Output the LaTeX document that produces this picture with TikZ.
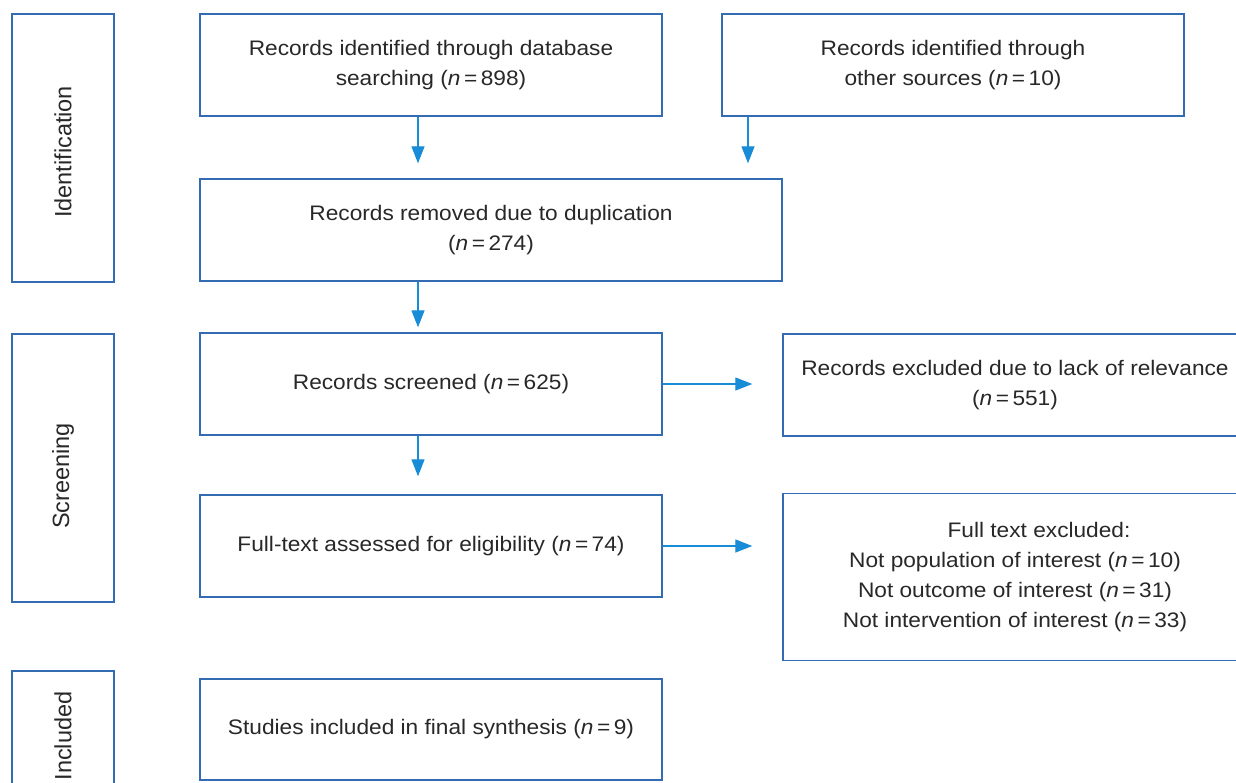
\documentclass[tikz,border=0pt]{standalone}
\usepackage{fontspec}
\setmainfont{Liberation Sans}[FakeStretch=1.08]
\newfontfamily\labfont{Liberation Sans}
\usetikzlibrary{arrows.meta}
\definecolor{boxc}{RGB}{52,108,180}
\definecolor{arrc}{RGB}{24,140,214}
\definecolor{txtc}{RGB}{40,40,40}
\tikzset{
  fbox/.style={draw=boxc, line width=1.4pt, inner sep=0pt, align=center, text=txtc,
    font=\fontsize{21}{30}\selectfont},
  stagebox/.style={draw=boxc, line width=1.4pt, inner sep=0pt},
  stagelab/.style={rotate=90, text=txtc, font=\labfont\fontsize{23.5}{28}\selectfont, inner sep=0pt},
  arr/.style={draw=arrc, line width=1.3pt, -{Triangle[length=17pt,width=13pt]}},
}
\begin{document}
\begin{tikzpicture}[x=1pt,y=-1pt]
\clip (0,0) rectangle (1236,782);
\fill[white] (0,0) rectangle (1236,782);
% stage boxes
\node[stagebox, minimum width=102pt, minimum height=268pt] (idb) at (63,148) {};
\node[stagebox, minimum width=102pt, minimum height=268pt] (scb) at (63,468) {};
\node[stagebox, minimum width=102pt, minimum height=268pt] (inb) at (63,805) {};
\node[stagelab] (idl) at (63,152) {Identification};
\node[stagelab] (scl) at (63,476) {Screening};
\node[stagelab] (inl) at (63,736) {Included};
% flow boxes
\node[fbox, minimum width=462pt, minimum height=102pt] (db) at (431,65)
  {Records identified through database\\searching (\textit{n}\,=\,898)};
\node[fbox, minimum width=462pt, minimum height=102pt] (oth) at (953,65)
  {Records identified through\\other sources (\textit{n}\,=\,10)};
\node[fbox, minimum width=582pt, minimum height=102pt] (rem) at (491,230)
  {Records removed due to duplication\\(\textit{n}\,=\,274)};
\node[fbox, minimum width=462pt, minimum height=102pt] (scr) at (431,384)
  {Records screened (\textit{n}\,=\,625)};
\node[fbox, minimum width=464pt, minimum height=102pt] (rel) at (1015,385)
  {Records excluded due to lack of relevance\\(\textit{n}\,=\,551)};
\node[fbox, minimum width=462pt, minimum height=102pt] (ft) at (431,546)
  {Full-text assessed for eligibility (\textit{n}\,=\,74)};
\node[fbox, minimum width=464pt, minimum height=167pt] (fte) at (1015,577)
  {\hspace*{48pt}Full text excluded:\\Not population of interest (\textit{n}\,=\,10)\\Not outcome of interest (\textit{n}\,=\,31)\\Not intervention of interest (\textit{n}\,=\,33)};
\node[fbox, minimum width=462pt, minimum height=101pt] (inc) at (431,729.5)
  {Studies included in final synthesis (\textit{n}\,=\,9)};
% arrow columns
\coordinate (ca) at (418,0);
\coordinate (cb) at (748,0);
\draw[arr, shorten >=15pt] (db.south -| ca) -- (rem.north -| ca);
\draw[arr, shorten >=15pt] (oth.south -| cb) -- (rem.north -| cb);
\draw[arr, shorten >=5pt] (rem.south -| ca) -- (scr.north -| ca);
\draw[arr, shorten >=18pt] (scr.south -| ca) -- (ft.north -| ca);
\draw[arr, shorten >=30pt] (scr.east) -- (rel.west |- scr.east);
\draw[arr, shorten >=30pt] (ft.east) -- (fte.west |- ft.east);
\end{tikzpicture}
\end{document}
